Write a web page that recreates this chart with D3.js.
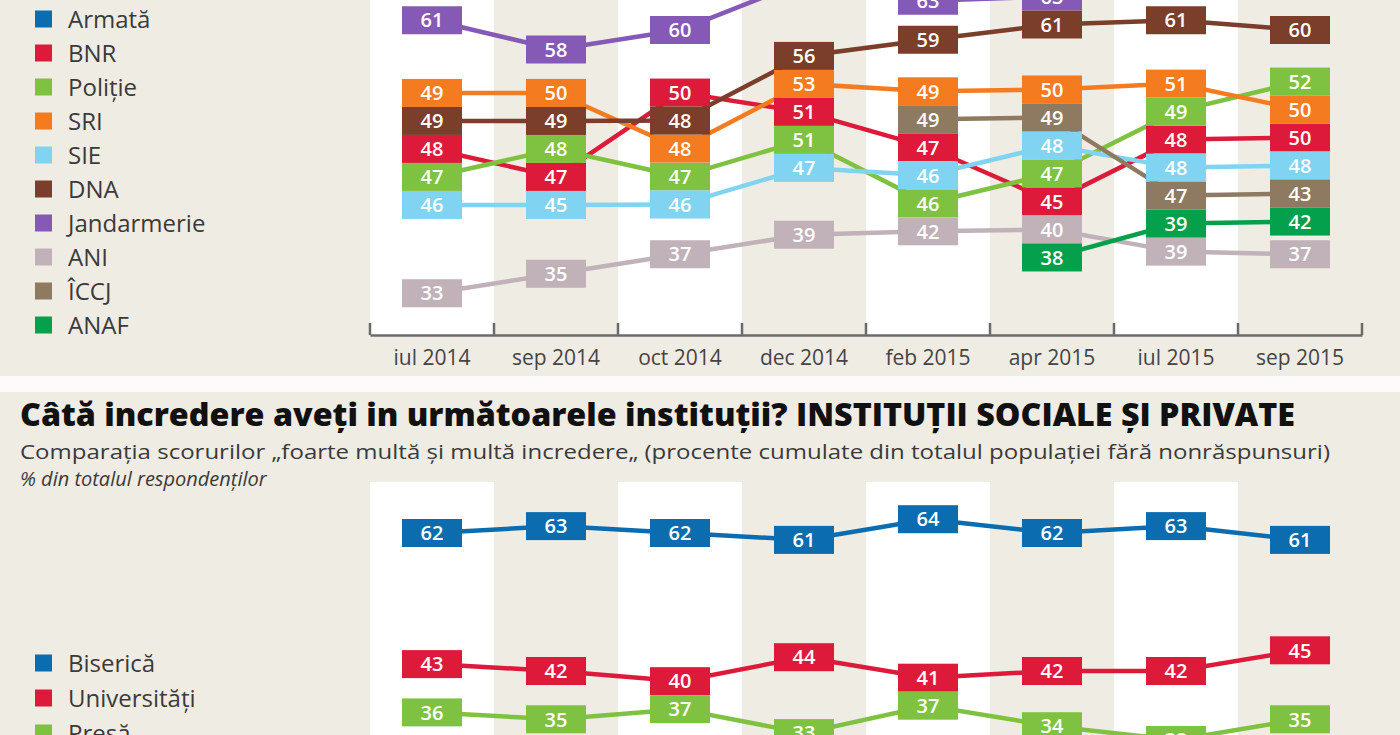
<!DOCTYPE html>
<html>
<head>
<meta charset="utf-8">
<script src="https://cdn.jsdelivr.net/npm/d3@7"></script>
<style>
  body { margin: 0; background: #efece4; }
  svg { display: block; font-family: "Open Sans", "Noto Sans", sans-serif; }
</style>
</head>
<body>
<div id="chart-container"></div>
<script>
// months on the x axis (same for both panels)
const months = ["iul 2014", "sep 2014", "oct 2014", "dec 2014", "feb 2015", "apr 2015", "iul 2015", "sep 2015"];

// top panel: institutii de forta / stat (null = not measured)
const topNames   = ["Armată", "BNR", "Poliție", "SRI", "SIE", "DNA", "Jandarmerie", "ANI", "ÎCCJ", "ANAF"];
const armata     = [77, 77, 76, 78, 80, 79, 77, 78];   // above the crop, not visible
const bnr        = [48, 47, 50, 51, 47, 45, 48, 50];
const politie    = [47, 48, 47, 51, 46, 47, 49, 52];
const sri        = [49, 50, 48, 53, 49, 50, 51, 50.2];
const sie        = [46, 45, 46, 47, 46.2, 48, 48, 48];
const dna        = [49, 49, 48.2, 56, 59, 61, 61, 60];
const jandarm    = [61, 58, 60, 65, 63, 63, 66, 65];
const ani        = [33, 35, 37, 39, 42, 40, 39, 37];
const iccj       = [null, null, null, null, 49, 49, 47, 43];
const anaf       = [null, null, null, null, null, 38, 39.2, 42];

// bottom panel: institutii sociale si private
const bottomNames   = ["Biserică", "Universități", "Presă"];
const biserica      = [62, 63, 62, 61, 64, 62, 63, 61];
const universitati  = [43, 42, 40, 44, 41, 42, 42, 45];
const presa         = [36, 35, 37, 33, 37, 34, 32, 35];

const titleText = "Câtă incredere aveți in următoarele instituții? INSTITUȚII SOCIALE ȘI PRIVATE";
const subText   = "Comparația scorurilor „foarte multă și multă incredere„ (procente cumulate din totalul populației fără nonrăspunsuri)";
const unitText  = "% din totalul respondenților";

// colours
const topColors = ["#0b6cb0", "#dd1a3a", "#7fc241", "#f47b20", "#80d3f1", "#7a3e2b", "#8559b6", "#c1b1b9", "#8e7a60", "#04a04b"];
const bottomColors = ["#0b6cb0", "#dd1a3a", "#7fc241"];

const W = 1400, H = 735;
const boxW = 60, boxH = 28;

let svg = d3.select("#chart-container").append("svg")
    .attr("width", W)
    .attr("height", H);

svg.append("rect").attr("width", W).attr("height", H).attr("fill", "#efece4");

let x = d3.scaleBand().domain(months).range([370, 1362]);

// white alternate columns
function columns(y0, y1) {
    svg.append("g").selectAll("rect")
        .data(months.filter((d, i) => i % 2 == 0))
        .join("rect")
        .attr("x", d => x(d))
        .attr("y", y0)
        .attr("width", x.bandwidth())
        .attr("height", y1 - y0)
        .attr("fill", "#ffffff");
}

// push labels apart so boxes stack without overlapping (clusters stay centred)
function layout(items, h) {
    items.sort((a, b) => a.ideal - b.ideal || a.s - b.s);
    let groups = items.map(d => ({ items: [d], sum: d.ideal }));
    let merged = true;
    while (merged) {
        merged = false;
        for (let g of groups) g.top = g.sum / g.items.length - (g.items.length - 1) * h / 2;
        for (let i = 1; i < groups.length; i++) {
            let a = groups[i - 1], b = groups[i];
            if (a.top + a.items.length * h > b.top + 0.01) {
                a.items = a.items.concat(b.items);
                a.sum += b.sum;
                groups.splice(i, 1);
                merged = true;
                break;
            }
        }
    }
    for (let g of groups) g.items.forEach((d, k) => d.y = g.top + k * h);
}

function drawPanel(seriesList, names, colors, y, lineW) {
    // positions per month
    let pos = seriesList.map(() => []);
    months.forEach((m, mi) => {
        let items = [];
        seriesList.forEach((vals, s) => {
            if (vals[mi] != null) items.push({ s: s, v: vals[mi], ideal: y(vals[mi]) });
        });
        layout(items, boxH);
        items.forEach(d => pos[d.s][mi] = { m: m, v: d.v, y: d.y, s: d.s });
    });

    let line = d3.line()
        .defined(d => d != null)
        .x(d => x(d.m) + x.bandwidth() / 2)
        .y(d => d.y);

    let g = svg.append("g");
    g.selectAll("path")
        .data(pos.map((p, s) => months.map((m, i) => p[i] || null)))
        .join("path")
        .attr("d", line)
        .attr("fill", "none")
        .attr("stroke", (d, s) => colors[s])
        .attr("stroke-width", lineW);

    let pts = pos.flat().filter(d => d);
    let boxes = g.selectAll("g.box")
        .data(pts)
        .join("g")
        .attr("class", "box")
        .attr("transform", d => `translate(${x(d.m) + x.bandwidth() / 2},${d.y})`);
    boxes.append("rect")
        .attr("x", -boxW / 2)
        .attr("y", -boxH / 2)
        .attr("width", boxW)
        .attr("height", boxH)
        .attr("fill", d => colors[d.s]);
    boxes.append("text")
        .attr("text-anchor", "middle")
        .attr("dy", "0.36em")
        .attr("fill", "#ffffff")
        .attr("font-size", 20)
        .attr("font-weight", 600)
        .text(d => d3.format(".0f")(d.v));
}

function legend(names, colors, y0, step) {
    let lg = svg.append("g").selectAll("g")
        .data(names)
        .join("g")
        .attr("transform", (d, i) => `translate(35,${y0 + i * step})`);
    lg.append("rect")
        .attr("y", -8.5)
        .attr("width", 17)
        .attr("height", 17)
        .attr("fill", (d, i) => colors[i]);
    lg.append("text")
        .attr("x", 33)
        .attr("dy", "0.36em")
        .attr("font-size", 24)
        .attr("fill", "#3a3a3a")
        .text(d => d);
}

// ---------- top panel ----------
let yTop = d3.scaleLinear().domain([30, 65]).range([322.5, -18.75]);
columns(0, 335);
drawPanel([armata, bnr, politie, sri, sie, dna, jandarm, ani, iccj, anaf], topNames, topColors, yTop, 4.5);
legend(topNames, topColors, 19, 34);

// x axis
let axisG = svg.append("g")
    .attr("transform", "translate(0,335)")
    .call(d3.axisBottom(x).tickSize(0).tickSizeOuter(0).tickPadding(15));
axisG.select(".domain").attr("stroke", "#6b6b6b").attr("stroke-width", 2.5);
axisG.selectAll("text")
    .attr("font-size", 21)
    .attr("fill", "#444")
    .attr("font-family", "'Open Sans', sans-serif");
axisG.selectAll("line.bound")
    .data(d3.range(months.length + 1))
    .join("line")
    .attr("class", "bound")
    .attr("x1", i => x.range()[0] + i * x.step())
    .attr("x2", i => x.range()[0] + i * x.step())
    .attr("y1", -12)
    .attr("y2", 0)
    .attr("stroke", "#6b6b6b")
    .attr("stroke-width", 2.5);

// white separator strip between panels
svg.append("rect").attr("x", 0).attr("y", 376).attr("width", W).attr("height", 16).attr("fill", "#fcfbf9");

// ---------- bottom panel ----------
svg.append("text")
    .attr("x", 20).attr("y", 426)
    .attr("font-size", 31)
    .attr("font-weight", 800)
    .attr("fill", "#111")
    .attr("textLength", 1275)
    .attr("lengthAdjust", "spacingAndGlyphs")
    .text(titleText);
svg.append("text")
    .attr("x", 20).attr("y", 459)
    .attr("font-size", 20)
    .attr("fill", "#3a3a3a")
    .attr("textLength", 1310)
    .attr("lengthAdjust", "spacingAndGlyphs")
    .text(subText);
svg.append("text")
    .attr("x", 20).attr("y", 486)
    .attr("font-size", 20)
    .attr("font-style", "italic")
    .attr("fill", "#3a3a3a")
    .text(unitText);

let yBottom = d3.scaleLinear().domain([30, 65]).range([753.8, 512.3]);
columns(482, H);
drawPanel([biserica, universitati, presa], bottomNames, bottomColors, yBottom, 4.5);
legend(bottomNames, bottomColors, 663, 35);
</script>
</body>
</html>
